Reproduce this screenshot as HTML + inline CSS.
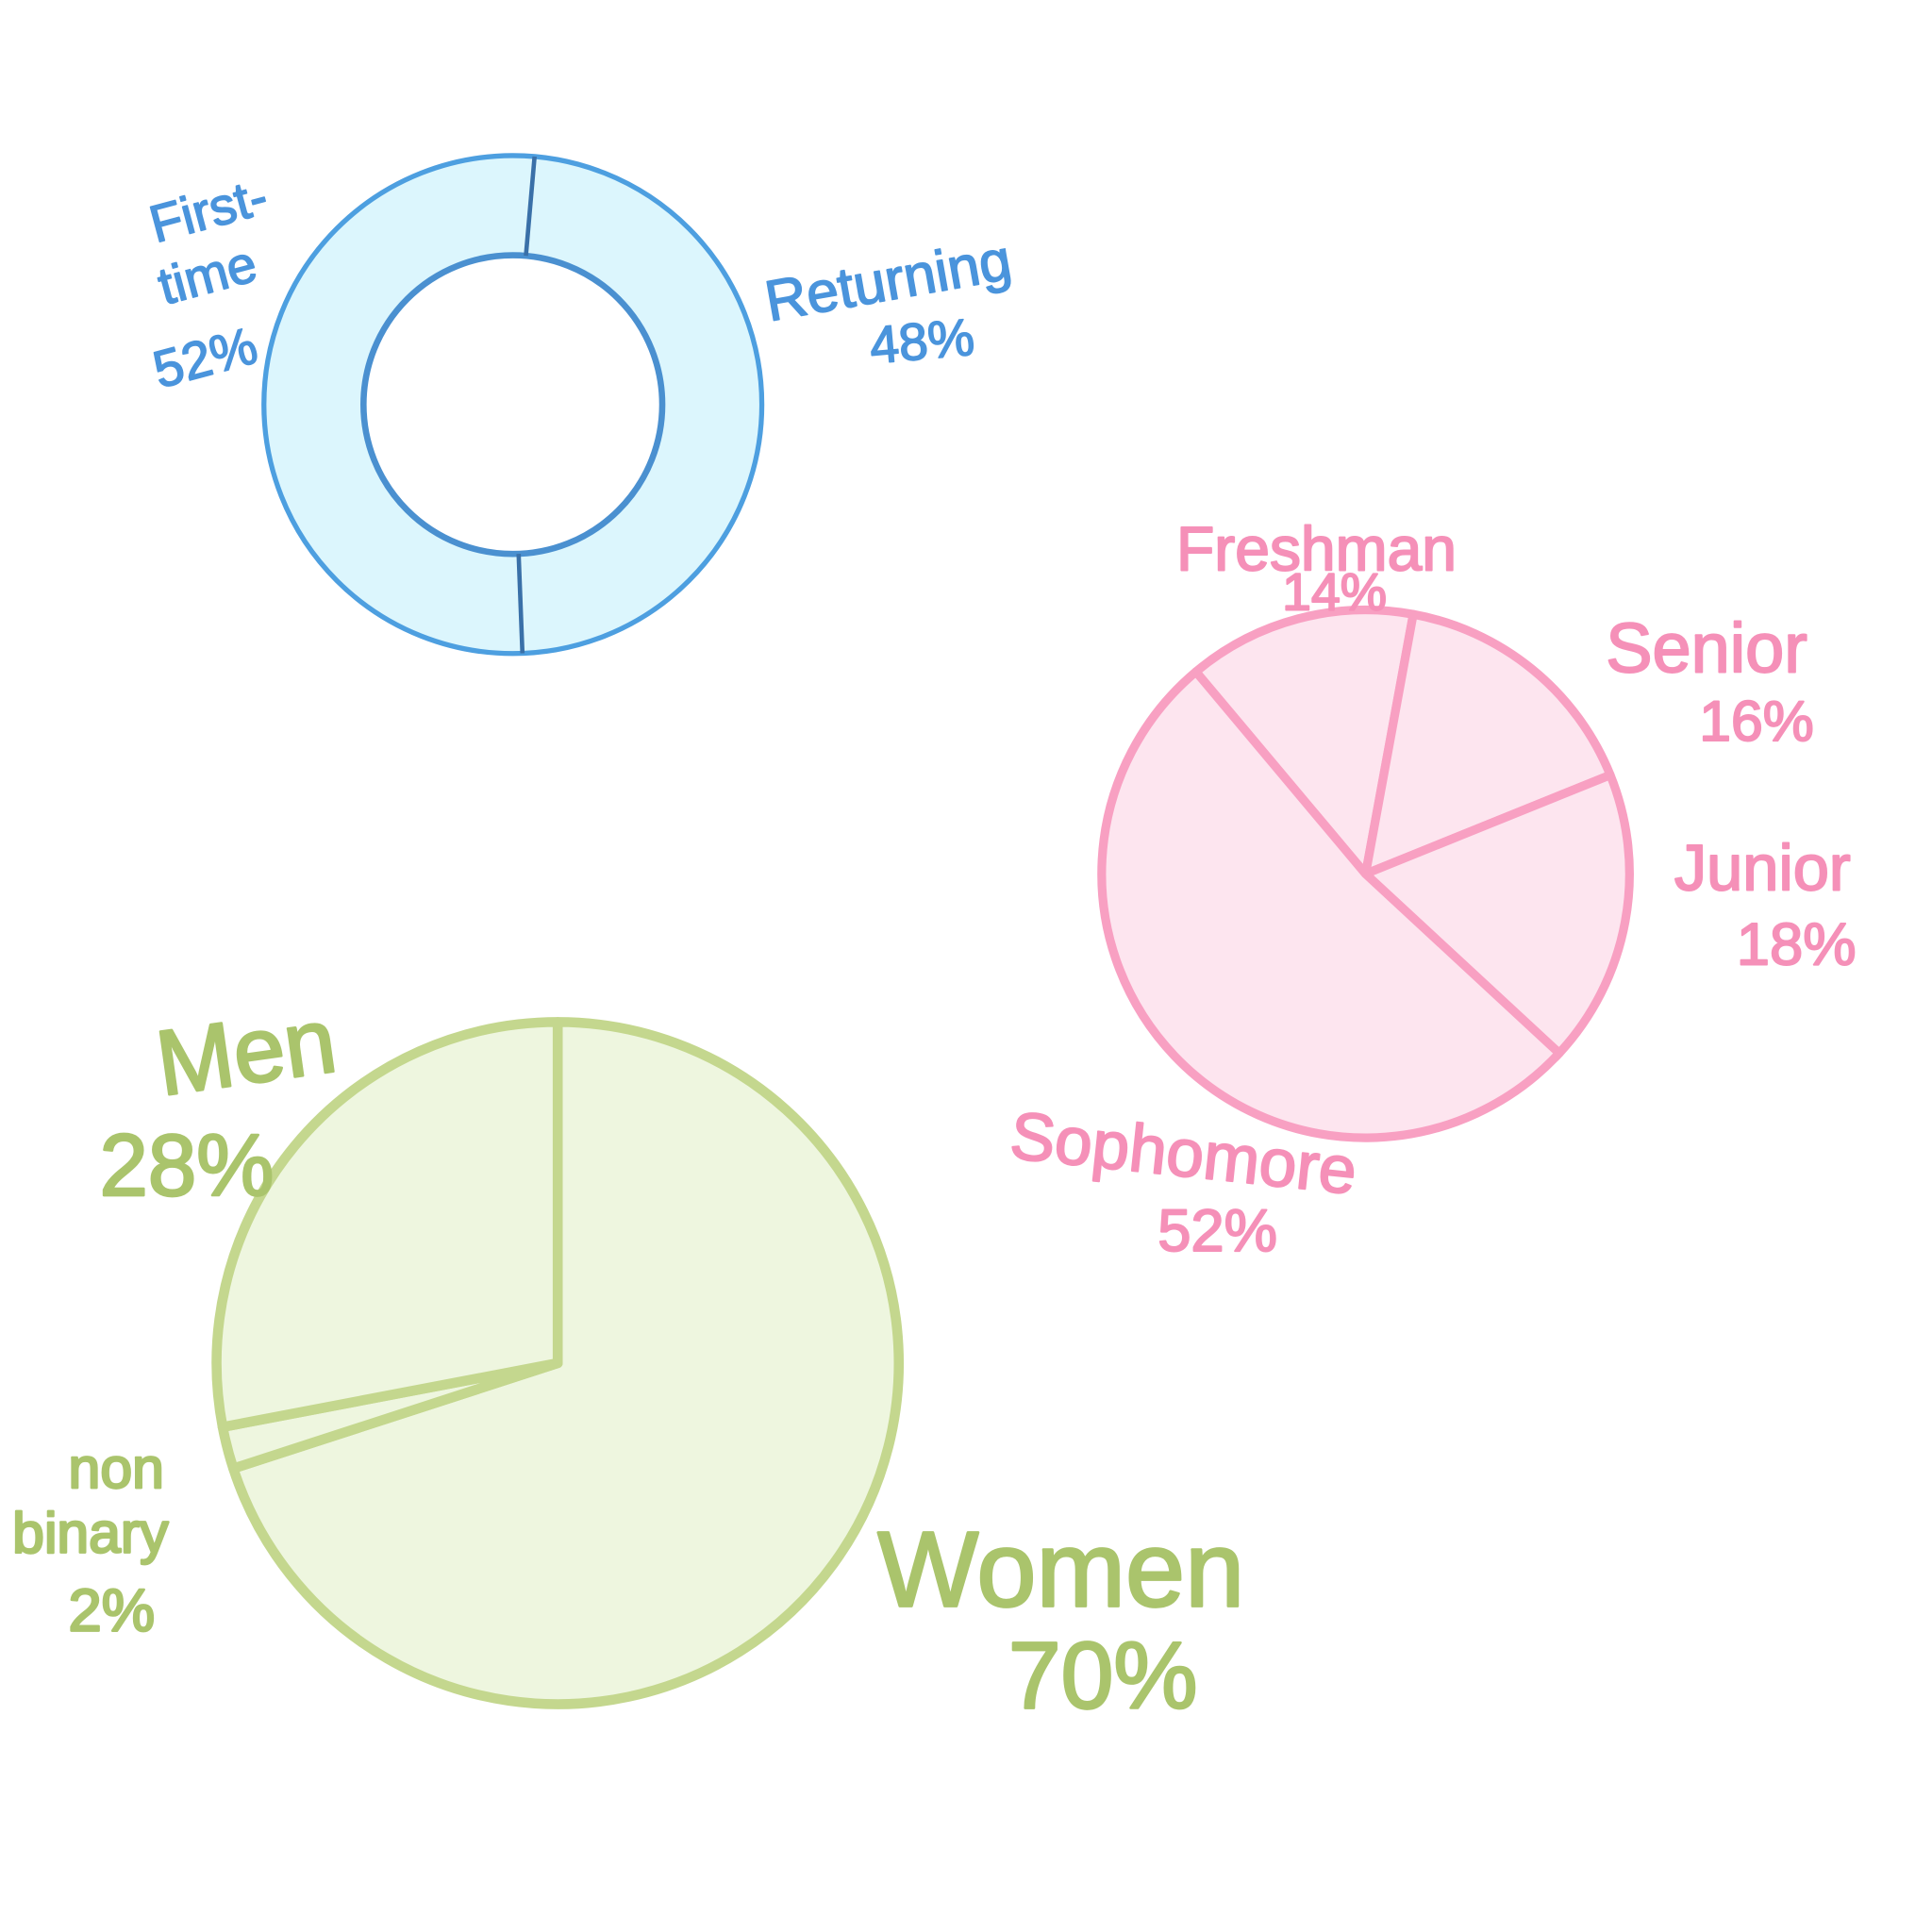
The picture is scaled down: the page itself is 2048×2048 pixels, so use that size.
<!DOCTYPE html>
<html><head><meta charset="utf-8">
<style>
html,body{margin:0;padding:0;background:#fff;}
svg{display:block;}
text{font-family:"Liberation Sans",sans-serif;paint-order:stroke;stroke-linejoin:round;}
</style></head>
<body>
<svg id="chart" width="2048" height="2048" viewBox="0 0 1552 1552" xmlns="http://www.w3.org/2000/svg">
<g id="donut"></g>
<g id="classpie"></g>
<g id="genderpie"></g>

<g fill="#4a94dc" stroke="#4a94dc" stroke-width="1.2">
<text transform="translate(125,195) rotate(-15)" font-size="42">First-</text>
<text transform="translate(132,245) rotate(-15)" font-size="42">time</text>
<text transform="translate(128,312) rotate(-15)" font-size="42">52%</text>
<text transform="translate(618,258) rotate(-10)" font-size="46">Returning</text>
<text transform="translate(700,292) rotate(-5)" font-size="42">48%</text>
</g>
<g fill="#f590b8" stroke="#f590b8" stroke-width="1.5">
<text x="945" y="458" font-size="50">Freshman</text>
<text x="1030" y="490" font-size="42">14%</text>
<text x="1290" y="540" font-size="56">Senior</text>
<text x="1365" y="595" font-size="46">16%</text>
<text x="1345" y="715" font-size="52">Junior</text>
<text x="1395" y="775" font-size="48">18%</text>
<text transform="translate(810,930) rotate(6)" font-size="54">Sophomore</text>
<text x="930" y="1005" font-size="48">52%</text>
</g>
<g fill="#aac46c" stroke="#aac46c" stroke-width="2">
<text transform="translate(130,880) rotate(-8)" font-size="74">Men</text>
<text x="80" y="960" font-size="70">28%</text>
<text x="55" y="1195" font-size="46">non</text>
<text x="10" y="1247" font-size="46">binary</text>
<text x="55" y="1310" font-size="48">2%</text>
<text x="705" y="1290" font-size="86">Women</text>
<text x="810" y="1372" font-size="76">70%</text>
</g>
</svg>
<script>
const donutCategories = ["Returning", "First-time"];
const donutValues = [48, 52];
const classCategories = ["Freshman", "Senior", "Junior", "Sophomore"];
const classValues = [14, 16, 18, 52];
const genderCategories = ["Women", "Non binary", "Men"];
const genderValues = [70, 2, 28];

const NS = "http://www.w3.org/2000/svg";
function pt(cx, cy, r, deg){const a=(deg-90)*Math.PI/180;return [cx+r*Math.cos(a), cy+r*Math.sin(a)];}
function angles(values, start){const tot=values.reduce((a,b)=>a+b,0);let a=start;return values.map(v=>{const s=a;a+=v/tot*360;return [s,a];});}
function mk(tag, parent){const e=document.createElementNS(NS,tag);parent.appendChild(e);return e;}

(function(){
  const g=document.getElementById('donut');
  const cx=412, cy=325, ro=200, ri=120;
  const ring=mk('path',g);
  
  
  ring.setAttribute('d',`M${cx-ro},${cy}a${ro},${ro} 0 1,0 ${2*ro},0a${ro},${ro} 0 1,0 ${-2*ro},0M${cx-ri},${cy}a${ri},${ri} 0 1,0 ${2*ri},0a${ri},${ri} 0 1,0 ${-2*ri},0Z`);
  ring.setAttribute('fill','#dcf6fd');ring.setAttribute('fill-rule','evenodd');
  const o=mk('circle',g);
  
  
  o.setAttribute('cx',cx);o.setAttribute('cy',cy);o.setAttribute('r',ro);o.setAttribute('fill','none');o.setAttribute('stroke','#4d9fe0');o.setAttribute('stroke-width','4');
  const i=mk('circle',g);
  
  
  i.setAttribute('cx',cx);i.setAttribute('cy',cy);i.setAttribute('r',ri);i.setAttribute('fill','#fff');i.setAttribute('stroke','#4a90d0');i.setAttribute('stroke-width','5');
  angles(donutValues, 5).forEach(([s,e],k)=>{
    const p1=pt(cx,cy,ri,s),p2=pt(cx,cy,ro,s);
    const l=mk('line',g);
    
    
    l.setAttribute('x1',p1[0]);l.setAttribute('y1',p1[1]);l.setAttribute('x2',p2[0]);l.setAttribute('y2',p2[1]);
    l.setAttribute('stroke','#3a70a8');l.setAttribute('stroke-width','3.5');
  });
})();

function pie(gid, cx, cy, r, cats, vals, start, fill, stroke, sw, prefix){
  const g=document.getElementById(gid);
  angles(vals,start).forEach(([s,e],k)=>{
    const p1=pt(cx,cy,r,s),p2=pt(cx,cy,r,e);
    const large=(e-s)>180?1:0;
    const p=mk('path',g);
    
    
    p.setAttribute('d',`M${cx},${cy}L${p1[0]},${p1[1]}A${r},${r} 0 ${large},1 ${p2[0]},${p2[1]}Z`);
    p.setAttribute('fill',fill);p.setAttribute('stroke',stroke);p.setAttribute('stroke-width',sw);p.setAttribute('stroke-linejoin','round');
  });
}
pie('classpie',1097,702,212,classCategories,classValues,-40,'#fde5ef','#f8a0c2',7,'class');
pie('genderpie',448,1095,274,genderCategories,genderValues,0,'#eef6df','#c4d78e',8,'gender');
</script>
</body></html>
